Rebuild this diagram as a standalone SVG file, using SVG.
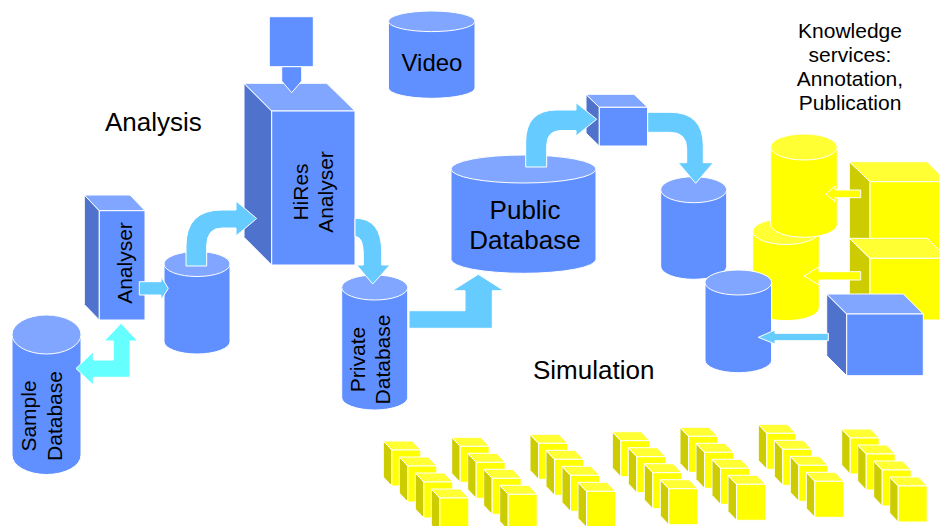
<svg xmlns="http://www.w3.org/2000/svg" width="939" height="526" viewBox="0 0 939 526">
<style>
  .bf{fill:#6090FF;stroke:#fff;stroke-width:1}
  .bt{fill:#80A6FF;stroke:#fff;stroke-width:1}
  .bs{fill:#4F72CC;stroke:#fff;stroke-width:1}
  .yf{fill:#FFFF00;stroke:#fff;stroke-width:1}
  .yt{fill:#FFFF33;stroke:#fff;stroke-width:1}
  .ys{fill:#CCCC00;stroke:#fff;stroke-width:1}
  .ar{fill:#66CCFF;stroke:#fff;stroke-width:1}
  .ac{fill:#66FFFF;stroke:#fff;stroke-width:1}
  .ay{fill:#FFFF00;stroke:#fff;stroke-width:1}
  .ab{fill:#6090FF;stroke:#fff;stroke-width:1}
  text{font-family:"Liberation Sans",Arial,sans-serif;fill:#000}
  .big{font-size:26px}
  .sm{font-size:21px}
  .mid{text-anchor:middle}
</style>
<defs>
  <g id="cube">
    <polygon class="ys" points="0,0 8.5,9 8.5,45 0,36"/>
    <polygon class="yt" points="0,0 29,0 37.5,9 8.5,9"/>
    <rect class="yf" x="8.5" y="9" width="29" height="36"/>
  </g>
  <g id="row">
    <use href="#cube" x="0" y="0"/>
    <use href="#cube" x="16" y="16"/>
    <use href="#cube" x="32" y="32"/>
    <use href="#cube" x="48" y="48"/>
  </g>
</defs>

<!-- labels -->
<text class="big" x="105" y="131">Analysis</text>
<text class="big" x="533" y="378.5">Simulation</text>
<text class="sm mid" x="850" y="38">Knowledge</text>
<text class="sm mid" x="850" y="62">services:</text>
<text class="sm mid" x="850" y="86">Annotation,</text>
<text class="sm mid" x="850" y="110">Publication</text>

<!-- nodes -->
<g id="sample-db">
  <path class="bf" d="M12,334.5 V455 A34.5,19.5 0 0 0 81,455 V334.5 Z"/>
  <ellipse class="bt" cx="46.5" cy="334.5" rx="34.5" ry="19.5"/>
  <text class="sm mid" transform="translate(0,416) rotate(-90)"><tspan x="0" y="36">Sample</tspan><tspan x="0" y="62">Database</tspan></text>
</g>

<g id="analyser">
  <polygon class="bs" points="84.3,195 99.3,210.7 99.3,320 84.3,304.5"/>
  <polygon class="bt" points="84.3,195 130,195 145,210.7 99.3,210.7"/>
  <rect class="bf" x="99.3" y="210.7" width="45.7" height="109.3"/>
  <text class="sm mid" transform="translate(0,263) rotate(-90)" x="0" y="132">Analyser</text>
</g>

<g id="analysis-db">
  <path class="bf" d="M164,264 V341.5 A33,12.5 0 0 0 230,341.5 V264 Z"/>
  <ellipse class="bt" cx="197" cy="264" rx="33" ry="12.5"/>
</g>

<g id="input-box">
  <rect class="bf" x="269.3" y="16.7" width="44" height="50"/>
</g>

<g id="hires-analyser">
  <polygon class="bs" points="244,83.3 271.7,111 271.7,265 244,237.3"/>
  <polygon class="bt" points="244,83.3 326.7,83.3 355,111 271.7,111"/>
  <rect class="bf" x="271.7" y="111" width="83.3" height="154"/>
  <text class="sm mid" transform="translate(0,192) rotate(-90)"><tspan x="0" y="307.5">HiRes</tspan><tspan x="0" y="332.5">Analyser</tspan></text>
</g>

<g id="video">
  <path class="bf" d="M388.4,21.3 V88 A43.3,10.3 0 0 0 475,88 V21.3 Z"/>
  <ellipse class="bt" cx="431.7" cy="21.3" rx="43.3" ry="10.3"/>
  <text class="mid" style="font-size:24px" x="432" y="71">Video</text>
</g>

<g id="private-db">
  <path class="bf" d="M341.7,287.5 V397.5 A33,12.5 0 0 0 407.7,397.5 V287.5 Z"/>
  <ellipse class="bt" cx="374.7" cy="287.5" rx="33" ry="12.5"/>
  <text class="sm mid" transform="translate(0,359.5) rotate(-90)"><tspan x="0" y="365">Private</tspan><tspan x="0" y="390">Database</tspan></text>
</g>

<g id="public-db">
  <path class="bf" d="M451,169 V259.3 A72.5,14 0 0 0 596,259.3 V169 Z"/>
  <ellipse class="bt" cx="523.5" cy="169" rx="72.5" ry="14"/>
  <text class="big mid" x="525" y="219">Public</text>
  <text class="big mid" x="525" y="249">Database</text>
</g>

<g id="small-box">
  <polygon class="bs" points="586,94.3 599.3,107.3 599.3,146 586,133"/>
  <polygon class="bt" points="586,94.3 634,94.3 647.5,107.3 599.3,107.3"/>
  <rect class="bf" x="599.3" y="107.3" width="48.2" height="38.7"/>
</g>

<g id="right-db">
  <path class="bf" d="M660.7,189.7 V266.3 A33,13 0 0 0 726.7,266.3 V189.7 Z"/>
  <ellipse class="bt" cx="693.7" cy="189.7" rx="33" ry="13"/>
</g>

<g id="yellow-db-lower">
  <path class="yf" d="M752.7,231.5 V307.7 A33.3,13 0 0 0 819.3,307.7 V231.5 Z"/>
  <ellipse class="yt" cx="786" cy="231.5" rx="33.3" ry="13"/>
</g>

<g id="yellow-db-upper">
  <path class="yf" d="M770.7,147 V224.3 A33.3,13 0 0 0 837.3,224.3 V147 Z"/>
  <ellipse class="yt" cx="804" cy="147" rx="33.3" ry="13"/>
</g>

<g id="blue-db-lower">
  <path class="bf" d="M705,282.5 V360.2 A33.3,12.5 0 0 0 771.6,360.2 V282.5 Z"/>
  <ellipse class="bt" cx="738.3" cy="282.5" rx="33.3" ry="12.5"/>
</g>

<g id="yellow-box-upper">
  <polygon class="ys" points="849.3,161.7 870,181.7 870,258 849.3,238"/>
  <polygon class="yt" points="849.3,161.7 927.3,161.7 947,181.7 870,181.7"/>
  <rect class="yf" x="870" y="181.7" width="77" height="76.3"/>
</g>

<g id="yellow-box-lower">
  <polygon class="ys" points="849.3,238.3 870,258.3 870,320 849.3,300"/>
  <polygon class="yt" points="849.3,238.3 927.3,238.3 947,258.3 870,258.3"/>
  <rect class="yf" x="870" y="258.3" width="77" height="61.7"/>
</g>

<g id="blue-box">
  <polygon class="bs" points="826.7,294 846.7,314 846.7,375.7 826.7,355.7"/>
  <polygon class="bt" points="826.7,294 903.3,294 923.3,314 846.7,314"/>
  <rect class="bf" x="846.7" y="314" width="76.6" height="61.7"/>
</g>

<g id="simulation-cubes">
  <use href="#row" x="383.3" y="441"/>
  <use href="#row" x="451.7" y="437.3"/>
  <use href="#row" x="530" y="434.3"/>
  <use href="#row" x="612.3" y="431.7"/>
  <use href="#row" x="680" y="427.3"/>
  <use href="#row" x="758.3" y="424.3"/>
  <use href="#row" x="841.7" y="429"/>
</g>

<!-- connectors -->
<g id="connectors">
  <polygon class="ac" points="76,368.5 93.3,351.7 93.3,360 113.3,360 113.3,341 104.3,341 121,323.3 137.7,341 130,341 130,377.3 93.3,377.3 93.3,385"/>
  <polygon class="ar" points="139.3,281.7 161,281.7 161,276.7 168.3,288.4 161,300 161,295 139.3,295"/>
  <path class="ar" d="M186,266 L186,246 Q186,210 222,210 L236,210 L236,201 L256.7,218.5 L236,236 L236,228 L222,228 Q206.7,228 206.7,246 L206.7,266 Z"/>
  <polygon class="ab" points="281.7,66.7 301.7,66.7 301.7,81 291.7,92.7 281.7,81"/>
  <path class="ar" d="M355,218.3 Q381.7,218.3 381.7,252 L381.7,265 L390,265 L372.7,284 L356.7,265 L363.3,265 L363.3,254 Q363.3,236.5 355,236.5 Z"/>
  <polygon class="ar" points="409,310.7 465,310.7 465,290.7 452.3,290.7 478.3,274.3 504,290.7 492.3,290.7 492.3,328.3 409,328.3"/>
  <path class="ar" d="M525.7,167 L525.7,142 Q525.7,110 557,110 L576,110 L576,102.7 L596.7,119.3 L576,136 L576,130.5 L561,130.5 Q546.7,130.5 546.7,146 L546.7,167 Z"/>
  <path class="ar" d="M647.7,112.3 L670,112.3 Q703.3,112.3 703.3,146 L703.3,162.7 L713.3,162.7 L695.7,183.3 L678.3,162.7 L686.7,162.7 L686.7,149 Q686.7,132.3 670,132.3 L647.7,132.3 Z"/>
  <polygon class="ay" points="860.7,190 835,190 835,186 826,194 835,201.7 835,197.7 860.7,197.7"/>
  <polygon class="ay" points="860.7,271.7 819,271.7 819,266.7 804,276 819,285 819,280 860.7,280"/>
  <polygon class="ar" points="828.3,333.3 775,333.3 775,330 758.3,337.3 775,344 775,340.7 828.3,340.7"/>
</g>
</svg>
